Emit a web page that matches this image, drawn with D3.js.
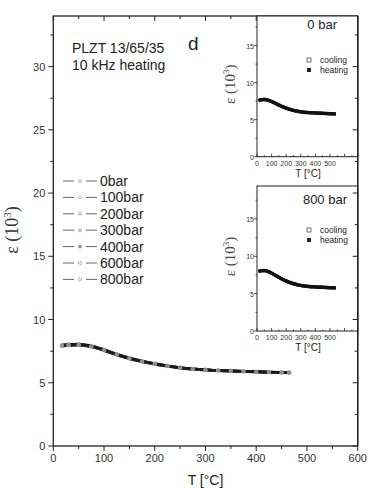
<!DOCTYPE html>
<html><head><meta charset="utf-8">
<script src="https://cdn.jsdelivr.net/npm/d3@7"></script>
<style>
html,body{margin:0;padding:0;background:#fff;}
svg{display:block;font-family:"Liberation Sans",Arial,sans-serif;}
</style></head>
<body>
<svg id="c" width="368" height="491"></svg>
<script>
// ---------- data ----------
const seriesNames = ["0bar","100bar","200bar","300bar","400bar","600bar","800bar"];
const temps = [17,30,50,75,100,125,150,175,200,225,250,275,300,325,350,375,400,425,450,465];
const eps0   = [7.88,7.95,7.98,7.84,7.55,7.20,6.90,6.66,6.46,6.30,6.16,6.07,6.00,5.95,5.92,5.88,5.85,5.82,5.80,5.78];
const eps100 = [7.90,7.96,7.99,7.85,7.56,7.21,6.91,6.67,6.47,6.31,6.17,6.08,6.01,5.96,5.92,5.89,5.86,5.83,5.80,5.79];
const eps200 = [7.92,7.97,8.00,7.86,7.57,7.22,6.92,6.68,6.48,6.32,6.18,6.08,6.01,5.96,5.93,5.89,5.86,5.83,5.81,5.79];
const eps300 = [7.93,7.98,8.01,7.87,7.58,7.23,6.93,6.69,6.49,6.33,6.18,6.09,6.02,5.97,5.93,5.90,5.87,5.84,5.81,5.80];
const eps400 = [7.95,8.00,8.02,7.88,7.59,7.24,6.94,6.70,6.50,6.33,6.19,6.10,6.03,5.97,5.94,5.90,5.87,5.84,5.82,5.80];
const eps600 = [7.97,8.02,8.04,7.90,7.61,7.26,6.96,6.71,6.51,6.34,6.20,6.10,6.03,5.98,5.94,5.91,5.88,5.85,5.82,5.81];
const eps800 = [8.00,8.05,8.06,7.92,7.63,7.28,6.97,6.72,6.52,6.35,6.21,6.11,6.04,5.98,5.95,5.91,5.88,5.85,5.83,5.81];
const mainSeries = [eps0,eps100,eps200,eps300,eps400,eps600,eps800];
const symbols = [d3.symbolCircle,d3.symbolCircle,d3.symbolTriangle,d3.symbolCross,d3.symbolSquare,d3.symbolTriangle,d3.symbolTriangle];
const symRot  = [0,0,0,0,0,-90,90];

const xTicksMain = [0,100,200,300,400,500,600];
const yTicksMain = [0,5,10,15,20,25,30];

// insets
const insetTemps = [10,30,50,80,110,140,170,200,240,280,320,360,400,440,480,520,540];
const inset0Cool = [7.55,7.68,7.72,7.60,7.35,7.05,6.78,6.55,6.30,6.12,6.00,5.94,5.90,5.86,5.82,5.79,5.77];
const inset0Heat = [7.58,7.70,7.74,7.62,7.37,7.07,6.80,6.57,6.32,6.14,6.02,5.95,5.91,5.87,5.83,5.80,5.78];
const inset800Cool = [7.95,8.05,8.08,7.92,7.62,7.28,6.95,6.68,6.38,6.16,6.02,5.94,5.89,5.85,5.81,5.78,5.76];
const inset800Heat = [7.97,8.07,8.10,7.94,7.64,7.30,6.97,6.70,6.40,6.18,6.04,5.95,5.90,5.86,5.82,5.79,5.77];
const xTicksInset = [0,100,200,300,400,500];
const yTicksInset = [0,5,10,15];

// ---------- layout ----------
const svg = d3.select("#c");
const M = {l:53.3, r:357.7, t:16, b:446};
const x = d3.scaleLinear().domain([0,600]).range([M.l,M.r]);
const y = d3.scaleLinear().domain([0,34]).range([M.b,M.t]);
const ink = "#222";

function ticks(g, scale, vals, orient, len, pos){
  vals.forEach(v=>{
    const p = scale(v);
    if(orient==="bottom"||orient==="top") g.append("line").attr("x1",p).attr("x2",p).attr("y1",pos).attr("y2",pos+len);
    else g.append("line").attr("y1",p).attr("y2",p).attr("x1",pos).attr("x2",pos-len);
  });
}

// main curves
const lineGen = d3.line().curve(d3.curveMonotoneX);
const gCurves = svg.append("g");
mainSeries.forEach((s,i)=>{
  const pts = temps.map((t,k)=>[x(t),y(s[k])]);
  gCurves.append("path").attr("d",lineGen(pts)).attr("fill","none")
    .attr("stroke", i%2? "#444":"#111").attr("stroke-width",2.6).attr("opacity",0.8);
});
mainSeries.forEach((s,i)=>{
  temps.forEach((t,k)=>{
    gCurves.append("path").attr("d",d3.symbol().type(symbols[i]).size(6)())
      .attr("transform",`translate(${x(t)},${y(s[k])}) rotate(${symRot[i]})`)
      .attr("fill", i===4? "#777":"none").attr("stroke","#999").attr("stroke-width",0.6);
  });
});

// axes main
const gAx = svg.append("g").attr("stroke",ink).attr("stroke-width",1);
gAx.append("rect").attr("x",M.l).attr("y",M.t).attr("width",M.r-M.l).attr("height",M.b-M.t).attr("fill","none").attr("stroke-width",1.3);
const xMinor = d3.range(50,600,100);
const yMinor = d3.range(2.5,34,5);
ticks(gAx,x,xTicksMain,"bottom",5,M.b);
ticks(gAx,x,xMinor,"bottom",3,M.b);
ticks(gAx,x,xTicksMain,"top",5,M.t);
ticks(gAx,x,xMinor,"top",3,M.t);
ticks(gAx,y,yTicksMain,"left",5,M.l);
ticks(gAx,y,yMinor,"left",3,M.l);

const gTxt = svg.append("g").attr("fill","#333").attr("font-size",11);
xTicksMain.forEach(v=>gTxt.append("text").attr("x",x(v)).attr("y",M.b+16).attr("text-anchor","middle").text(v));
yTicksMain.forEach(v=>gTxt.append("text").attr("x",M.l-8).attr("y",y(v)+4).attr("text-anchor","end").text(v));
svg.append("text").attr("x",(M.l+M.r)/2).attr("y",485).attr("text-anchor","middle").attr("font-size",14).attr("fill","#222").text("T [°C]");
svg.append("text").attr("transform",`translate(18,${230}) rotate(-90)`).attr("text-anchor","middle")
  .attr("font-family","'Liberation Serif','DejaVu Serif',serif").attr("font-size",18).attr("fill","#333")
  .html("ε (10<tspan dy='-7' font-size='11'>3</tspan><tspan dy='7'>)</tspan>");

svg.append("text").attr("x",72).attr("y",53).attr("font-size",14).attr("fill","#222").text("PLZT 13/65/35");
svg.append("text").attr("x",72).attr("y",70).attr("font-size",14).attr("fill","#222").text("10 kHz heating");
svg.append("text").attr("x",188).attr("y",50).attr("font-size",19).attr("fill","#222").text("d");

// legend
const gLeg = svg.append("g");
seriesNames.forEach((n,i)=>{
  const ly = 181 + i*16.4;
  gLeg.append("line").attr("x1",63).attr("x2",74).attr("y1",ly).attr("y2",ly).attr("stroke","#666").attr("stroke-width",1);
  gLeg.append("line").attr("x1",86).attr("x2",97).attr("y1",ly).attr("y2",ly).attr("stroke","#666").attr("stroke-width",1);
  gLeg.append("path").attr("d",d3.symbol().type(symbols[i]).size(6)())
    .attr("transform",`translate(80,${ly}) rotate(${symRot[i]})`)
    .attr("fill", i===4? "#777":"none").attr("stroke","#999").attr("stroke-width",0.7);
  gLeg.append("text").attr("x",100).attr("y",ly+5).attr("font-size",14).attr("fill","#222").text(n);
});

// insets
function inset(top, bottom, yMax, label, labelY, cool, heat){
  const L = 257, R = 357.7;
  const ix = d3.scaleLinear().domain([0,690]).range([L,R]);
  const iy = d3.scaleLinear().domain([0,yMax]).range([bottom,top]);
  const g = svg.append("g");
  g.append("rect").attr("x",L).attr("y",top).attr("width",R-L).attr("height",bottom-top).attr("fill","#fff").attr("stroke",ink).attr("stroke-width",1);
  const pc = insetTemps.map((t,k)=>[ix(t),iy(cool[k])]);
  const ph = insetTemps.map((t,k)=>[ix(t),iy(heat[k])]);
  g.append("path").attr("d",lineGen(pc)).attr("fill","none").attr("stroke","#111").attr("stroke-width",3.4);
  g.append("path").attr("d",lineGen(ph)).attr("fill","none").attr("stroke","#111").attr("stroke-width",3.4);
  const ga = g.append("g").attr("stroke",ink).attr("stroke-width",0.8);
  ticks(ga,ix,xTicksInset.concat([600]),"bottom",-3,bottom);
  ticks(ga,ix,d3.range(50,690,100),"bottom",-1.5,bottom);
  ticks(ga,iy,yTicksInset,"left",3,L);
  ticks(ga,iy,d3.range(2.5,yMax,5),"left",1.5,L);
  const gt = g.append("g").attr("fill","#333").attr("font-size",7);
  xTicksInset.forEach(v=>gt.append("text").attr("x",ix(v)).attr("y",bottom+9).attr("text-anchor","middle").text(v));
  yTicksInset.forEach(v=>gt.append("text").attr("x",L-3).attr("y",iy(v)+3).attr("text-anchor","end").text(v));
  g.append("text").attr("x",308).attr("y",bottom+20).attr("text-anchor","middle").attr("font-size",10).attr("fill","#222").text("T [°C]");
  g.append("text").attr("transform",`translate(235,${(top+bottom)/2 - 2}) rotate(-90)`).attr("text-anchor","middle")
    .attr("font-family","'Liberation Serif','DejaVu Serif',serif").attr("font-size",15).attr("fill","#444")
    .html("ε (10<tspan dy='-6' font-size='9'>3</tspan><tspan dy='6'>)</tspan>");
  g.append("text").attr("x",label==="0 bar"?337:347).attr("y",labelY).attr("text-anchor","end").attr("font-size",13).attr("fill","#222").text(label);
  g.append("rect").attr("x",307).attr("y",top+42).attr("width",4).attr("height",4).attr("fill","#fff").attr("stroke","#333").attr("stroke-width",0.7);
  g.append("rect").attr("x",307).attr("y",top+52).attr("width",4).attr("height",4).attr("fill","#222");
  g.append("text").attr("x",320).attr("y",top+47).attr("font-size",8.5).attr("fill","#222").text("cooling");
  g.append("text").attr("x",320).attr("y",top+57).attr("font-size",8.5).attr("fill","#222").text("heating");
}
inset(16,156.7,19,"0 bar",29,inset0Cool,inset0Heat);
inset(186,331,19.4,"800 bar",204,inset800Cool,inset800Heat);

// main right ticks on top
const gR = svg.append("g").attr("stroke",ink).attr("stroke-width",1);
gR.append("line").attr("x1",M.r).attr("x2",M.r).attr("y1",M.t).attr("y2",M.b).attr("stroke-width",1.3);
ticks(gR,y,yTicksMain,"right",5,M.r);
ticks(gR,y,yMinor,"right",3,M.r);
</script>
</body></html>
